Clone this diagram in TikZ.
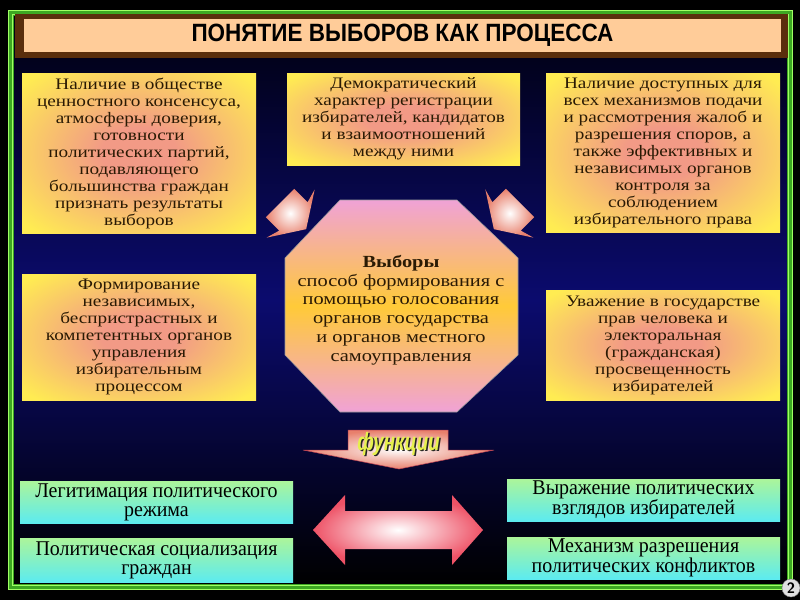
\documentclass[tikz,border=0pt]{standalone}
\usepackage{fontspec}
\newfontfamily\boxfont[FakeStretch=1.2]{Liberation Serif}
\newfontfamily\narrowfont[FakeStretch=0.95]{Liberation Serif}
\newfontfamily\titlefont[FakeStretch=0.9]{Liberation Sans}
\newfontfamily\labelfont[FakeStretch=0.75]{Liberation Sans}
\usetikzlibrary{calc}

\definecolor{navy}{HTML}{0B0B6E}
\definecolor{navydark}{HTML}{00000E}
\definecolor{peach}{HTML}{FFCC99}
\definecolor{brownframe}{HTML}{5A2E0C}
\definecolor{framegreen}{HTML}{3DA822}
\definecolor{lightgreen}{HTML}{A0FF64}
\definecolor{boxyellow}{HTML}{FFEC52}
\definecolor{boxsalmon}{HTML}{F29A86}
\definecolor{inkbrown}{HTML}{2A1A04}
\definecolor{octpink}{HTML}{F0A2D6}
\definecolor{octgold}{HTML}{FFCA38}
\definecolor{arrowsalmon}{HTML}{E8806C}
\definecolor{arrowred}{HTML}{EE5266}
\definecolor{boxgreen}{HTML}{ACF59A}
\definecolor{boxcyan}{HTML}{5CEBF0}
\definecolor{funcyellow}{HTML}{E6F04C}

\pgfdeclareradialshading{boxglow}{\pgfpoint{0bp}{0bp}}{color(0bp)=(boxsalmon); color(8bp)=(boxsalmon); color(33bp)=(boxyellow); color(50bp)=(boxyellow)}

\begin{document}
\begin{tikzpicture}[x=1pt,y=-1pt,
    yellowbox/.style={shade,shading=boxglow,inner sep=0pt,align=center,text=inkbrown,font=\boxfont\fontsize{16}{17}\selectfont},
    greenbox/.style={top color=boxgreen,bottom color=boxcyan,inner sep=0pt,minimum width=273pt,minimum height=42pt,align=center,text=black,font=\narrowfont\fontsize{21}{19}\selectfont},
    fatarrow/.pic={\path[inner color=white,outer color=arrowsalmon] (0,-20)--(19,-20)--(15,-34)--(37,0)--(15,34)--(19,20)--(0,20)--cycle;}]
  \useasboundingbox (0,0) rectangle (800,600);
  \fill[black] (0,0) rectangle (800,600);
  \shade[top color=navydark,bottom color=navy] (14,16) rectangle (787,300);
  \shade[top color=navy,bottom color=black] (14,300) rectangle (787,584);
  \draw[framegreen,line width=6pt] (11,13) rectangle (790,587);
  \draw[lightgreen,line width=1.2pt] (8.5,10.5) rectangle (792.5,589.5);
  \draw[lightgreen,line width=1pt] (12.5,14.5) rectangle (788.5,585.5);

  \fill[brownframe] (15,14) rectangle (788,58);
  \node[fill=peach,minimum width=757pt,minimum height=33pt,inner sep=0pt,font=\titlefont\bfseries\fontsize{25}{25}\selectfont] (title) at (402.5,35.5) {ПОНЯТИЕ ВЫБОРОВ КАК ПРОЦЕССА};

  \node[yellowbox,minimum width=234pt,minimum height=160pt] (consensus) at (139,153) {Наличие в обществе\\ценностного консенсуса,\\атмосферы доверия,\\готовности\\политических партий,\\подавляющего\\большинства граждан\\признать результаты\\выборов};
  \node[yellowbox,minimum width=233pt,minimum height=92pt] (registration) at (403.5,119) {Демократический\\характер регистрации\\избирателей, кандидатов\\и взаимоотношений\\между ними};
  \node[yellowbox,minimum width=234pt,minimum height=159pt] (disputes) at (663,152.5) {Наличие доступных для\\всех механизмов подачи\\и рассмотрения жалоб и\\разрешения споров, а\\также эффективных и\\независимых органов\\контроля за\\соблюдением\\избирательного права};
  \node[yellowbox,minimum width=234pt,minimum height=126pt] (bodies) at (139,337) {Формирование\\независимых,\\беспристрастных и\\компетентных органов\\управления\\избирательным\\процессом};
  \node[yellowbox,minimum width=234pt,minimum height=110pt] (rights) at (663,345) {Уважение в государстве\\прав человека и\\электоральная\\(гражданская)\\просвещенность\\избирателей};

  \path[top color=octpink,bottom color=octpink,middle color=octgold,draw=black!40,line width=0.6pt] (340,200)--(457,200)--(518,258)--(518,355)--(457,412)--(340,412)--(285,355)--(285,258)--cycle;
  \node[align=center,text=inkbrown,font=\boxfont\fontsize{17}{18.7}\selectfont] (vybory) at (401,310) {\textbf{Выборы}\\способ формирования с\\помощью голосования\\органов государства\\и органов местного\\самоуправления};

  \pic[rotate=-45] (leftin) at (280,203) {fatarrow};
  \pic[rotate=-135] (rightin) at (520,203) {fatarrow};

  \path[inner color=white,outer color=arrowsalmon,draw=arrowred!80!black,line width=0.5pt] (348,430)--(448,430)--(448,450)--(494,450)--(399,469)--(303,450)--(348,450)--cycle;
  \node[text=black!85,font=\labelfont\bfseries\itshape\fontsize{25}{25}\selectfont] (funcshadow) at (400,445.5) {функции};
  \node[text=funcyellow,font=\labelfont\bfseries\itshape\fontsize{25}{25}\selectfont] (funktsii) at (398.5,444) {функции};

  \path[inner color=white,outer color=arrowred] (313,530)--(345,495)--(345,511)--(452,511)--(452,495)--(483,530)--(452,565)--(452,549)--(345,549)--(345,565)--cycle;

  \node[greenbox] (legitimation) at (156.5,502) {Легитимация политического\\режима};
  \node[greenbox,minimum height=44pt] (socialization) at (156.5,560) {Политическая социализация\\граждан};
  \node[greenbox] (expression) at (643.5,500) {Выражение политических\\взглядов избирателей};
  \node[greenbox] (conflicts) at (643.5,558) {Механизм разрешения\\политических конфликтов};

  \node[circle,fill=black!12,draw=black!50,inner sep=0pt,minimum size=18pt,font=\sffamily\bfseries\fontsize{15}{15}\selectfont] (slidenum) at (791,588) {2};
\end{tikzpicture}
\end{document}
